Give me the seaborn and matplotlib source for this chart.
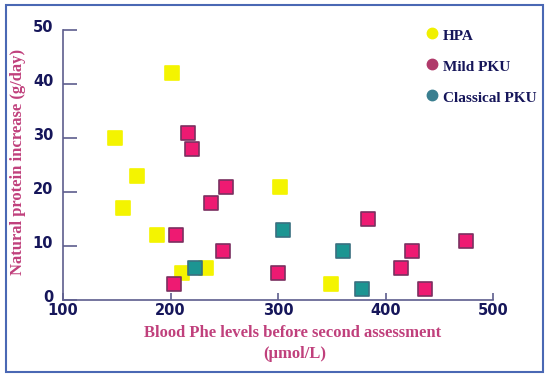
import matplotlib
matplotlib.use("Agg")
import matplotlib.pyplot as plt
import matplotlib.transforms as mtransforms
import seaborn as sns
import pandas as pd
from matplotlib.lines import Line2D
from matplotlib.patches import Rectangle

sns.set_style("white")

hpa_x = [201, 148, 169, 156, 187, 211, 233, 302, 349]
hpa_y = [42, 30, 23, 17, 12, 5, 6, 21, 3]
mild_x = [216, 220, 252, 238, 205, 249, 203, 300, 384, 425, 414, 437, 475]
mild_y = [31, 28, 21, 18, 12, 9, 3, 5, 15, 9, 6, 2, 11]
classic_x = [223, 305, 360, 378]
classic_y = [6, 13, 9, 2]

groups = ["HPA", "Mild PKU", "Classical PKU"]
fills = {"HPA": "#f4f400", "Mild PKU": "#ee1a72", "Classical PKU": "#1c9592"}
edges = {"HPA": "#f4f400", "Mild PKU": "#7a3060", "Classical PKU": "#3a7080"}
legend_colors = {"HPA": "#f0f000", "Mild PKU": "#b03a6a", "Classical PKU": "#3a7f90"}

df = pd.concat([
    pd.DataFrame({"x": hpa_x, "y": hpa_y, "g": "HPA"}),
    pd.DataFrame({"x": mild_x, "y": mild_y, "g": "Mild PKU"}),
    pd.DataFrame({"x": classic_x, "y": classic_y, "g": "Classical PKU"}),
])

fig = plt.figure(figsize=(5.5, 3.77), dpi=100)
ax = fig.add_axes([63/550, 1-300/377, (493-63)/550, (300-30)/377])

for g in groups:
    sub = df[df.g == g]
    sns.scatterplot(data=sub, x="x", y="y", ax=ax, marker="s", s=110,
                    color=fills[g], edgecolor=edges[g], linewidth=1.2,
                    legend=False, clip_on=False, zorder=3)

ax.set_xlim(100, 500)
ax.set_ylim(0, 50)
ax.set_xticks([100, 200, 300, 400, 500])
ax.set_yticks([0, 10, 20, 30, 40, 50])
navy = "#16165a"
spine_c = "#5e5e8e"
for s in ["top", "right"]:
    ax.spines[s].set_visible(False)
for s in ["left", "bottom"]:
    ax.spines[s].set_color(spine_c)
    ax.spines[s].set_linewidth(1.2)
ax.tick_params(axis="y", direction="in", length=10, width=1.2, color=spine_c,
               labelsize=10.5, labelcolor=navy, pad=7, left=True)
ax.tick_params(axis="x", direction="in", length=5, width=1.2, color=spine_c,
               labelsize=10.5, labelcolor=navy, pad=2, bottom=True)
shift = mtransforms.ScaledTranslation(0, 4/100, fig.dpi_scale_trans)
for lab in ax.get_yticklabels():
    lab.set_fontweight("bold")
    lab.set_transform(lab.get_transform() + shift)
for lab in ax.get_xticklabels():
    lab.set_fontweight("bold")
ax.set_xlabel("")
ax.set_ylabel("")

pink = "#c0407c"
serif = "Liberation Serif"
fig.text(18/550, 1-162/377, "Natural protein increase (g/day)", rotation=90,
         ha="center", va="center", color=pink, fontsize=12,
         family=serif, fontweight="bold")
fig.text(293/550, 1-333/377, "Blood Phe levels before second assessment",
         ha="center", va="center", color=pink, fontsize=12,
         family=serif, fontweight="bold")
fig.text(295/550, 1-354/377, "(µmol/L)",
         ha="center", va="center", color=pink, fontsize=12,
         family=serif, fontweight="bold")

# legend
for i, g in enumerate(groups):
    yc = 1 - (33 + i*31)/377
    yt = 1 - (37 + i*30.5)/377
    fig.add_artist(Line2D([432/550], [yc], marker="o", markersize=7.5,
                          color=legend_colors[g], linestyle="none",
                          transform=fig.transFigure))
    fig.text(443/550, yt, g, ha="left", va="center", color=navy,
             fontsize=11, family=serif, fontweight="bold")

fig.add_artist(Rectangle((6/550, 1-372/377), (543-6)/550, (372-5)/377,
                         transform=fig.transFigure, fill=False,
                         edgecolor="#4a68b4", linewidth=1.5))

fig.savefig("out.png", dpi=100)
